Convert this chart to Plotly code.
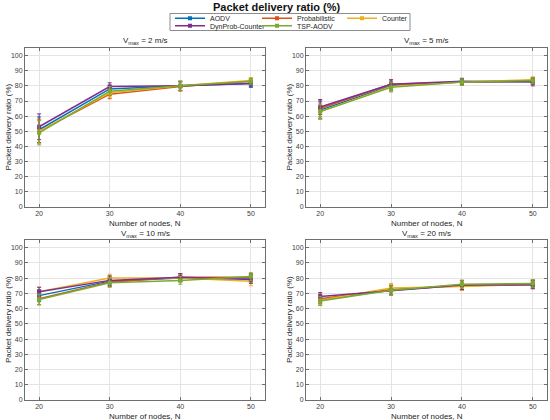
import plotly.graph_objects as go

nodes = [20, 30, 40, 50]
protocols = ["AODV", "Probabilistic", "Counter", "DynProb-Counter", "TSP-AODV"]
colors = ["#0072BD", "#D95319", "#EDB120", "#7E2F8E", "#77AC30"]
speeds = ["2", "5", "10", "20"]

# one row per protocol (same order as protocols), one column per node count
pdr_v2 = [[51, 78, 80, 81.5], [50, 74.5, 79.5, 83], [50, 75.5, 80, 83.5],
          [53, 79.5, 80, 81.5], [49, 76.5, 80, 83]]
err_v2 = [[8.5, 2.5, 3, 2.5], [8, 3, 3, 2], [8, 3, 3, 2],
          [8.5, 2.5, 3, 2], [8, 3, 3, 2]]

pdr_v5 = [[64, 80, 82.5, 83], [65, 81, 82.5, 83], [63, 79.5, 82.5, 84],
          [66, 81, 83, 82.5], [63, 79, 82.5, 83.5]]
err_v5 = [[5.5, 3, 2, 2], [5.5, 3, 2, 2], [5, 3, 2, 2],
          [5, 3, 2, 2.5], [5, 3, 2, 2]]

pdr_v10 = [[68.5, 78, 80, 80], [66.5, 77.5, 80.5, 80.5], [71, 80, 80, 78],
           [71, 78.5, 80.5, 79], [66, 77, 78.5, 81]]
err_v10 = [[4, 3, 2.5, 2.5], [4, 3, 2.5, 2.5], [3, 2.5, 2.5, 3],
           [3, 3, 2.5, 2.5], [3.5, 3, 2.5, 2.5]]

pdr_v20 = [[66, 72, 75.5, 76], [66.5, 72.5, 75, 76], [65.5, 73.5, 74.5, 76],
           [68, 72, 75.5, 75.5], [65, 72, 76, 76.5]]
err_v20 = [[3, 3, 3, 2.5], [3, 3, 3, 2.5], [3, 3, 2.5, 3],
           [2.5, 3, 3, 2.5], [3, 3, 2.5, 2.5]]

panels = [(pdr_v2, err_v2), (pdr_v5, err_v5), (pdr_v10, err_v10), (pdr_v20, err_v20)]

FONT = "Liberation Sans, Arial, sans-serif"
W, H = 550, 420

# axes boxes in pixels (left, right, top, bottom)
boxes = [(25, 265, 48, 207), (306, 547, 48, 207),
         (25, 265, 240, 400), (306, 547, 240, 400)]

# legend slots in pixels (left x, row centre y), one legend per protocol
leg_pos = [(170, 18.3), (257, 18.3), (342, 18.3), (170, 25.8), (257, 25.8)]

fig = go.Figure()

for p, (vals, errs) in enumerate(panels):
    xa = "x" if p == 0 else "x%d" % (p + 1)
    ya = "y" if p == 0 else "y%d" % (p + 1)
    for i, name in enumerate(protocols):
        fig.add_trace(go.Scatter(
            x=nodes, y=vals[i], name=name, xaxis=xa, yaxis=ya,
            mode="lines+markers",
            line=dict(color=colors[i], width=1.5),
            marker=dict(symbol="square", size=4, color=colors[i]),
            error_y=dict(type="data", array=errs[i], color=colors[i],
                         thickness=1, width=2),
            showlegend=(p == 0),
            legend="legend" if i == 0 else "legend%d" % (i + 1),
        ))

axis_style = dict(
    showline=True, linecolor="#6e6e6e", linewidth=1, mirror="ticks",
    ticks="inside", ticklen=3, tickcolor="#6e6e6e",
    showgrid=True, gridcolor="#e4e4e4", gridwidth=1, zeroline=False,
    tickfont=dict(family=FONT, size=7, color="#404040"),
    automargin=False,
)


def note(text, x, y, size=8, angle=0, color="#262626"):
    return dict(text=text, x=x / W, y=1 - y / H, xref="paper", yref="paper",
                xanchor="center", yanchor="middle", showarrow=False, textangle=angle,
                font=dict(family=FONT, size=size, color=color))


layout = {}
annotations = []
for p, (l, r, t, b) in enumerate(boxes):
    sfx = "" if p == 0 else str(p + 1)
    layout["xaxis" + sfx] = dict(axis_style, domain=[l / W, r / W], range=[18, 52],
                                 tickvals=nodes, anchor="y" + sfx)
    layout["yaxis" + sfx] = dict(axis_style, domain=[1 - b / H, 1 - t / H], range=[0, 105],
                                 tickvals=list(range(0, 101, 10)), anchor="x" + sfx)
    cx = (l + r) / 2
    annotations.append(note("V<sub>max</sub> = %s m/s" % speeds[p], cx, t - 6.5))
    annotations.append(note("Number of nodes, N", cx, b + 16.5))
    annotations.append(note("Packet delivery ratio (%)", l - 17, (t + b) / 2, angle=-90))

annotations.append(note("<b>Packet delivery ratio (%)</b>", 277, 7, size=11, color="#111111"))

legends = {}
for i, (lx, ly) in enumerate(leg_pos):
    key = "legend" if i == 0 else "legend%d" % (i + 1)
    legends[key] = dict(orientation="v", xanchor="left", yanchor="middle",
                        x=lx / W, y=1 - ly / H, bgcolor="rgba(0,0,0,0)", borderwidth=0,
                        font=dict(family=FONT, size=7, color="#262626"), itemwidth=30)

fig.update_layout(
    width=W, height=H,
    margin=dict(l=0, r=0, t=0, b=0, autoexpand=False),
    paper_bgcolor="white", plot_bgcolor="white",
    annotations=annotations,
    shapes=[dict(type="rect", xref="paper", yref="paper",
                 x0=170 / W, x1=410 / W, y0=1 - 30.5 / H, y1=1 - 13.5 / H,
                 line=dict(color="#8c8c8c", width=1))],
    **legends,
    **layout,
)

fig.write_html("out.html", config={"displayModeBar": False},
               post_script="document.body.style.margin = '0';")
